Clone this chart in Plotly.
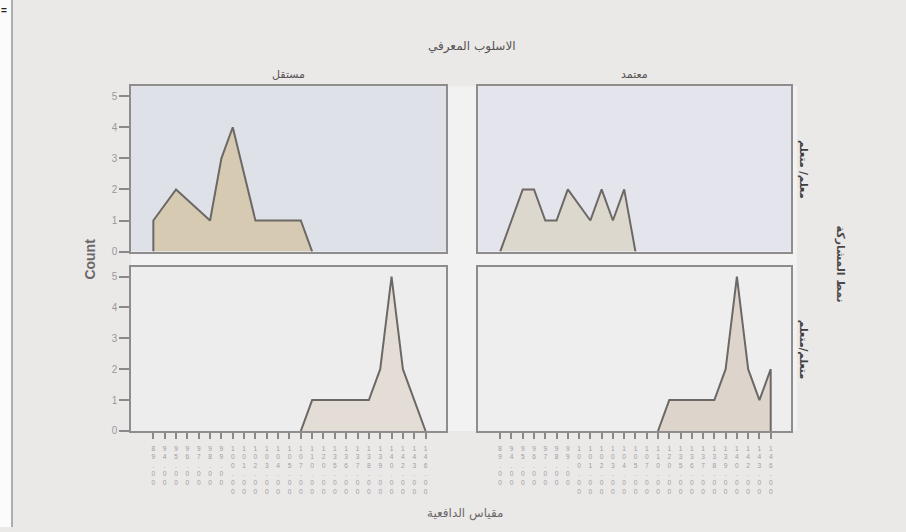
import plotly.graph_objects as go

# x-axis categories (motivation scale scores) shared by all panels
categories = [89, 94, 95, 96, 97, 98, 99, 100, 101, 102, 103, 104, 105,
              107, 110, 120, 135, 136, 137, 138, 139, 140, 142, 143, 146]
tick_labels = ["<br>".join(f"{v:.2f}") for v in categories]

# counts per panel: (score, count) vertices of each area
tl_scores = [89, 95, 98, 99, 100, 102, 107, 110]
tl_counts = [1, 2, 1, 3, 4, 1, 1, 0]
tr_scores = [89, 95, 96, 97, 98, 99, 101, 102, 103, 104, 105]
tr_counts = [0, 2, 2, 1, 1, 2, 1, 2, 1, 2, 0]
bl_scores = [107, 110, 138, 139, 140, 142, 146]
bl_counts = [0, 1, 1, 2, 5, 2, 0]
br_scores = [110, 120, 138, 139, 140, 142, 143, 146]
br_counts = [0, 1, 1, 2, 5, 2, 1, 2]

col_labels = ["مستقل", "معتمد"]
row_labels = ["معلم/ متعلم", "متعلم/متعلم"]
title_text = "الاسلوب المعرفي"
row_title = "نمط المشاركة"
x_title = "مقياس الدافعية"
y_title = "Count"

W, H = 906, 532
AR = "DejaVu Sans"
BG = "#ebe8e8"
LINE = "#6c6865"
FRAME = "#8e8c8c"
TICK_FONT = dict(family="Liberation Sans", size=10, color="#9a9898")

# panel pixel boxes: (left, right) and (top, bottom)
cols_px = [(131, 446), (478, 791)]
rows_px = [(85, 250), (265, 429)]


def py(p):
    # vertical pixel position -> paper fraction
    return 1 - ((p + 1) / 0.9883) / H


def xdom(c):
    return [cols_px[c][0] / W, cols_px[c][1] / W]


def ydom(r):
    return [py(rows_px[r][1]), py(rows_px[r][0])]


def px_ann(text, x, y, size, color, family=AR, angle=0):
    return dict(text=text, x=x / W, y=py(y), xref="paper", yref="paper",
                xanchor="center", yanchor="middle", showarrow=False,
                textangle=angle, font=dict(family=family, size=size, color=color))


panels = [
    (tl_scores, tl_counts, 0, 0, "#d6cab3", "#dfe1e8"),
    (tr_scores, tr_counts, 0, 1, "#ddd8cd", "#e4e5ec"),
    (bl_scores, bl_counts, 1, 0, "#e4ddd6", "#ededee"),
    (br_scores, br_counts, 1, 1, "#ddd5cc", "#eeeeef"),
]

fig = go.Figure()
shapes = []
layout = {}

# light strips between the panels
shapes.append(dict(type="rect", xref="paper", yref="paper",
                   x0=131 / W, x1=797 / W, y0=py(429), y1=py(85),
                   fillcolor="#f3f2f2", line=dict(width=0), layer="below"))
# left border of the page
shapes.append(dict(type="rect", xref="paper", yref="paper",
                   x0=0, x1=11 / W, y0=0, y1=1,
                   fillcolor="#fbfbfb", line=dict(width=0), layer="below"))
shapes.append(dict(type="line", xref="paper", yref="paper",
                   x0=12 / W, x1=12 / W, y0=0, y1=1,
                   line=dict(color="#9a9a9a", width=1.5), layer="below"))

for i, (sc, cn, r, c, fill, bg) in enumerate(panels):
    k = "" if i == 0 else str(i + 1)
    idx = [categories.index(s) for s in sc]
    xs = [idx[0]] + idx + [idx[-1]]
    ys = [0] + cn + [0]
    fig.add_trace(go.Scatter(
        x=xs, y=ys, mode="lines", fill="toself", fillcolor=fill,
        line=dict(color=LINE, width=2), xaxis="x" + k, yaxis="y" + k,
        showlegend=False, hoverinfo="skip"))

    shapes.append(dict(type="rect", xref="paper", yref="paper",
                       x0=xdom(c)[0], x1=xdom(c)[1], y0=ydom(r)[0], y1=ydom(r)[1],
                       fillcolor=bg, line=dict(width=0), layer="below"))

    xa = dict(domain=xdom(c), anchor="y" + k, range=[-1.97, 25.8],
              showgrid=False, zeroline=False, showline=True, mirror=True,
              linecolor=FRAME, linewidth=1.5, fixedrange=True)
    if r == 1:
        xa.update(tickmode="array", tickvals=list(range(len(categories))),
                  ticktext=tick_labels, ticks="outside", ticklen=6,
                  tickcolor="#8a8888", tickwidth=1.5, ticklabelstandoff=4,
                  tickfont=dict(family="Liberation Sans", size=6.6, color="#a09e9e"),
                  tickangle=0)
    else:
        xa.update(showticklabels=False, ticks="")
    ya = dict(domain=ydom(r), anchor="x" + k, range=[0, 5.32],
              showgrid=False, zeroline=False, showline=True, mirror=True,
              linecolor=FRAME, linewidth=1.5, fixedrange=True)
    if c == 0:
        ya.update(tickmode="array", tickvals=[0, 1, 2, 3, 4, 5],
                  ticks="outside", ticklen=10, tickcolor="#8a8888",
                  tickwidth=1.5, tickfont=TICK_FONT)
    else:
        ya.update(showticklabels=False, ticks="")
    layout["xaxis" + k] = xa
    layout["yaxis" + k] = ya

ann = [px_ann(title_text, 472, 45, 12, "#555353")]
for c, lab in enumerate(col_labels):
    cx = (cols_px[c][0] + cols_px[c][1]) / 2
    ann.append(px_ann(lab, cx, 73, 11, "#555353"))
for r, lab in enumerate(row_labels):
    cy = (rows_px[r][0] + rows_px[r][1]) / 2
    ann.append(px_ann("<b>" + lab + "</b>", 803, cy, 10, "#3e3c3c", angle=90))
ann.append(px_ann("<b>" + row_title + "</b>", 840, 262, 11, "#4a4848", angle=90))
ann.append(px_ann(x_title, 465, 511, 12, "#6a6868"))
ann.append(px_ann("<b>" + y_title + "</b>", 90, 258, 14, "#6a6868",
                  family="Liberation Sans", angle=-90))
ann.append(px_ann("<b>=</b>", 4, 9, 10, "#222", family="Liberation Sans"))

fig.update_layout(
    width=W, height=H, margin=dict(l=0, r=0, t=0, b=0),
    paper_bgcolor=BG, plot_bgcolor="rgba(0,0,0,0)",
    shapes=shapes, annotations=ann, **layout)

fig.write_html("out.html")
